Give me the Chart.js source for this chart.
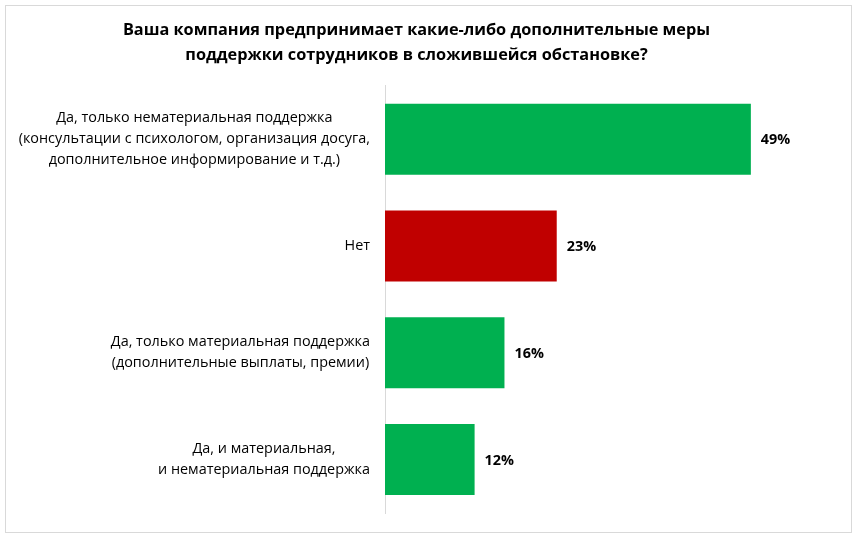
<!DOCTYPE html>
<html>
<head>
<meta charset="utf-8">
<script src="https://cdn.jsdelivr.net/npm/chart.js@4/dist/chart.umd.min.js"></script>
<style>
  html, body { margin: 0; padding: 0; background: #fff; }
  #wrap { width: 857px; height: 538px; }
</style>
</head>
<body>
<div id="wrap"><canvas id="bar-graph"></canvas></div>
<script>
// data
var titleLines = ['Ваша компания предпринимает какие-либо дополнительные меры',
                  'поддержки сотрудников в сложившейся обстановке?'];

var categories = [
	['Да, только нематериальная поддержка',
	 '(консультации с психологом, организация досуга,',
	 'дополнительное информирование и т.д.)'],
	['Нет'],
	['Да, только материальная поддержка',
	 '(дополнительные выплаты, премии)'],
	['Да, и материальная,',
	 'и нематериальная поддержка']
];

var values = [49, 23, 16, 12];
var barColors = ['#00B050', '#C00000', '#00B050', '#00B050'];

var labelFont = '14.4px "Open Sans", sans-serif';
var valueFont = 'bold 14.4px "Open Sans", sans-serif';

// border round the whole chart
var frame = {
	id: 'frame',
	beforeDraw: function(chart) {
		var ctx = chart.ctx;
		ctx.save();
		ctx.fillStyle = '#fff';
		ctx.fillRect(0, 0, chart.width, chart.height);
		ctx.strokeStyle = '#D9D9D9';
		ctx.lineWidth = 1;
		ctx.strokeRect(5.5, 5.5, 846, 527);
		ctx.restore();
	}
};

// category labels: block right aligned, lines centered inside the block
var catLabels = {
	id: 'catLabels',
	afterDraw: function(chart) {
		var ctx = chart.ctx,
		    yScale = chart.scales.y,
		    right = chart.chartArea.left - 15,
		    lineH = 21;
		ctx.save();
		ctx.font = labelFont;
		ctx.fillStyle = '#000';
		ctx.textAlign = 'center';
		ctx.textBaseline = 'middle';
		categories.forEach(function(lines, i) {
			var y = yScale.getPixelForValue(i),
			    widest = Math.max.apply(null, lines.map(function(l) { return ctx.measureText(l).width; })),
			    cx = right - widest / 2,
			    top = y - (lines.length - 1) * lineH / 2;
			lines.forEach(function(l, j) {
				ctx.fillText(l, cx, top + j * lineH);
			});
		});
		ctx.restore();
	}
};

// value labels at the end of the bars
var valueLabels = {
	id: 'valueLabels',
	afterDatasetsDraw: function(chart) {
		var ctx = chart.ctx,
		    meta = chart.getDatasetMeta(0);
		ctx.save();
		ctx.font = valueFont;
		ctx.fillStyle = '#000';
		ctx.textAlign = 'left';
		ctx.textBaseline = 'middle';
		meta.data.forEach(function(bar, i) {
			ctx.fillText(values[i] + '%', bar.x + 10, bar.y + 1);
		});
		ctx.restore();
	}
};

var config = {
	type: 'bar',
	data: {
		labels: categories,
		datasets: [{
			data: values,
			backgroundColor: barColors,
			barPercentage: 0.665,
			categoryPercentage: 1
		}]
	},
	options: {
		indexAxis: 'y',
		responsive: true,
		maintainAspectRatio: false,
		animation: false,
		layout: { padding: { left: 0, right: 24, top: 0, bottom: 25 } },
		plugins: {
			legend: { display: false },
			tooltip: { enabled: false },
			title: {
				display: true,
				text: titleLines,
				color: '#000',
				font: { family: '"Open Sans", sans-serif', size: 16.3, weight: 'bold', lineHeight: 1.53 },
				padding: { top: 17.5, bottom: 18.5 }
			}
		},
		scales: {
			x: {
				display: false,
				min: 0,
				max: 60
			},
			y: {
				display: true,
				grid: { display: false },
				border: { display: true, color: '#D9D9D9', width: 1 },
				ticks: { display: false },
				afterFit: function(scale) { scale.width = 385; }
			}
		}
	},
	plugins: [frame, catLabels, valueLabels]
};

var graph = new Chart(document.getElementById('bar-graph'), config);
</script>
</body>
</html>
